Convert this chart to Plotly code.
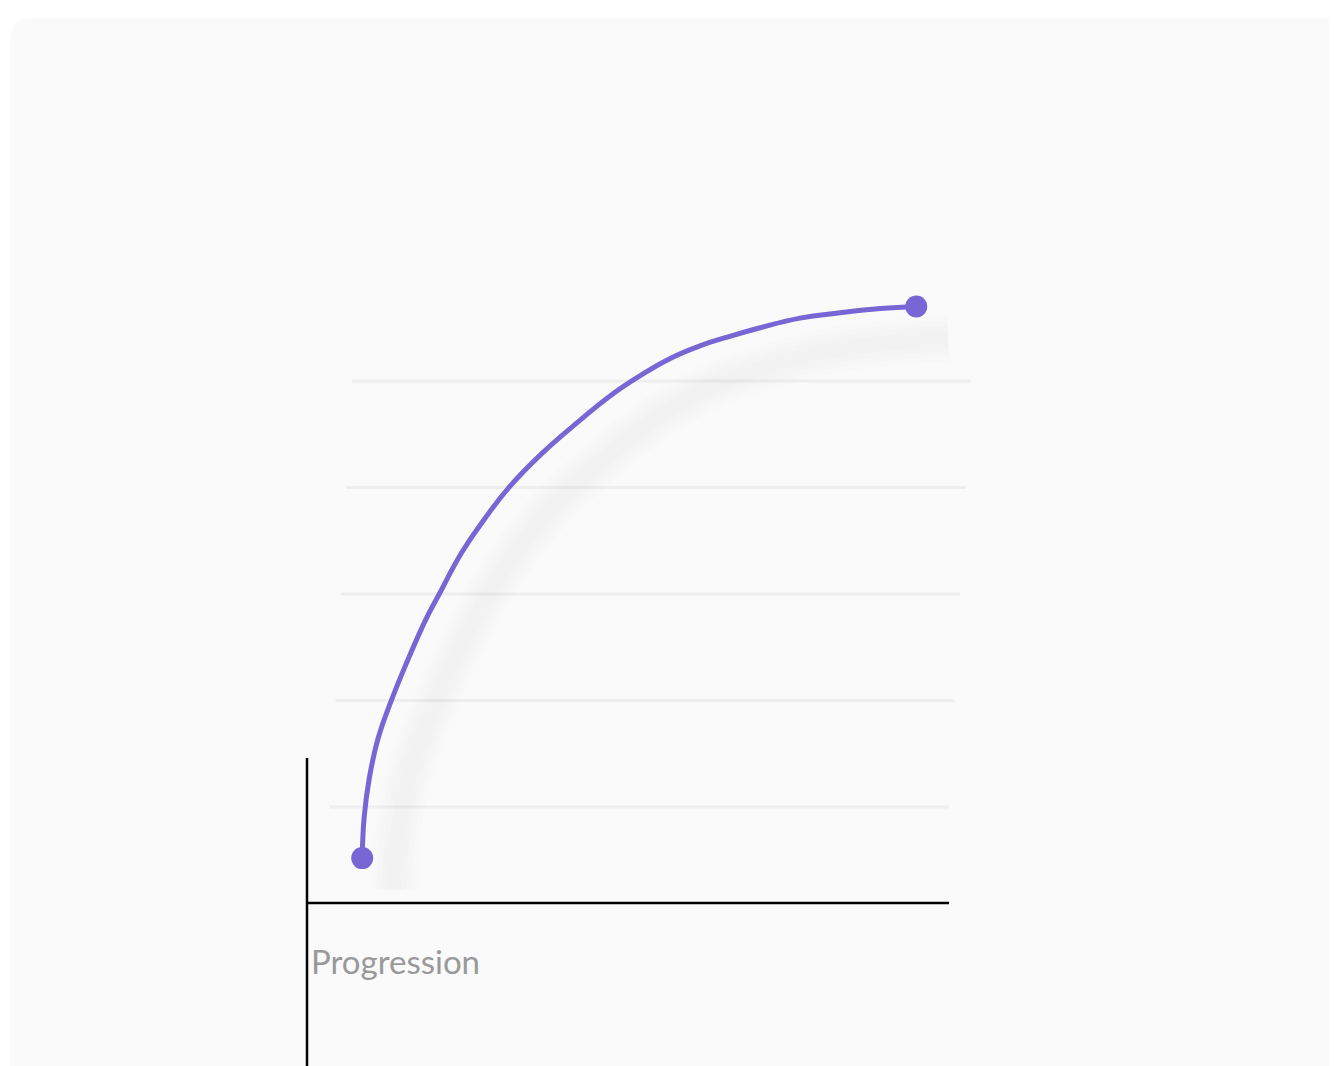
import plotly.graph_objects as go

# progression curve (x: 0-10 along the axis, y: grid units)
progress_x = [0.86, 0.89, 0.97, 1.11, 1.32, 1.57, 1.85, 2.06, 2.41, 2.76, 3.16, 3.66,
              4.25, 4.72, 5.19, 5.65, 6.12, 6.59, 7.06, 7.68, 8.30, 8.93, 9.49]
progress_y = [0.52, 0.90, 1.27, 1.65, 2.01, 2.38, 2.76, 3.00, 3.39, 3.70, 4.01, 4.32,
              4.63, 4.86, 5.05, 5.21, 5.33, 5.42, 5.50, 5.59, 5.64, 5.68, 5.70]
grid_levels = [1, 2, 3, 4, 5]
axis_label = "Progression"

# the page body adds an 8px margin, so the figure is 8px smaller than the window
OFF = 8
W, H = 1337 - OFF, 1066 - OFF
PURPLE = "#7766d4"

# pixel <-> data mapping (page pixels): origin at (307, 913.5), 64.2 px per x unit, 106.5 px per y unit
X0, XS = 307 - OFF, 64.2
Y0, YS = 913.5 - OFF, 106.5
x_range = [(0 - X0) / XS, (W - X0) / XS]
y_range = [(Y0 - H) / YS, Y0 / YS]


def px_x(p):
    return (p - OFF - X0) / XS


def px_y(p):
    return (Y0 - (p - OFF)) / YS


fig = go.Figure()

# soft drop shadow under the curve, offset down-right
shadow_dx, shadow_dy = 32 / XS, -32 / YS
for width, alpha in [(46, 0.006), (36, 0.007), (26, 0.008), (16, 0.009)]:
    fig.add_scatter(
        x=[v + shadow_dx for v in progress_x],
        y=[v + shadow_dy for v in progress_y],
        mode="lines",
        line=dict(color=f"rgba(0,0,0,{alpha})", width=width, shape="spline", smoothing=1.3),
        hoverinfo="skip",
        showlegend=False,
    )

fig.add_scatter(
    x=progress_x,
    y=progress_y,
    mode="lines",
    line=dict(color=PURPLE, width=5, shape="spline", smoothing=1.3),
    showlegend=False,
)
fig.add_scatter(
    x=[progress_x[0], progress_x[-1]],
    y=[progress_y[0], progress_y[-1]],
    mode="markers",
    marker=dict(color=PURPLE, size=22),
    showlegend=False,
)

shapes = []
# card background with rounded top-left corner
cx, cy, r = (10 - OFF) / W, 1 - (18 - OFF) / H, 22
shapes.append(dict(
    type="path", xref="paper", yref="paper", layer="below",
    path=(f"M {cx},{1 - (18 - OFF + r) / H} Q {cx},{cy} {(10 - OFF + r) / W},{cy} "
          f"L 1.02,{cy} L 1.02,-0.02 L {cx},-0.02 Z"),
    fillcolor="#fafafa", line=dict(width=0),
))
# slanted grid lines
for i, level in enumerate(grid_levels):
    shift = 5.5 * i / XS
    shapes.append(dict(
        type="line", xref="x", yref="y", layer="below",
        x0=px_x(330) + shift, x1=px_x(949) + shift,
        y0=level, y1=level,
        line=dict(color="#eeeeee", width=3),
    ))
# axis lines
shapes.append(dict(type="line", xref="x", yref="y", x0=0, x1=10,
                   y0=px_y(903), y1=px_y(903),
                   line=dict(color="#000000", width=2.5)))
shapes.append(dict(type="line", xref="x", yref="y", x0=0, x1=0,
                   y0=px_y(758), y1=y_range[0],
                   line=dict(color="#000000", width=2.5)))

fig.update_layout(
    width=W,
    height=H,
    margin=dict(l=0, r=0, t=0, b=0),
    paper_bgcolor="#ffffff",
    plot_bgcolor="rgba(0,0,0,0)",
    shapes=shapes,
    xaxis=dict(range=x_range, visible=False, fixedrange=True),
    yaxis=dict(range=y_range, visible=False, fixedrange=True),
    annotations=[dict(
        text=axis_label, xref="x", yref="y",
        x=px_x(309), y=px_y(961),
        xanchor="left", yanchor="middle", showarrow=False,
        font=dict(family="Lato, Open Sans, sans-serif", size=33, color="#999999"),
    )],
)

fig.write_html("out.html")
